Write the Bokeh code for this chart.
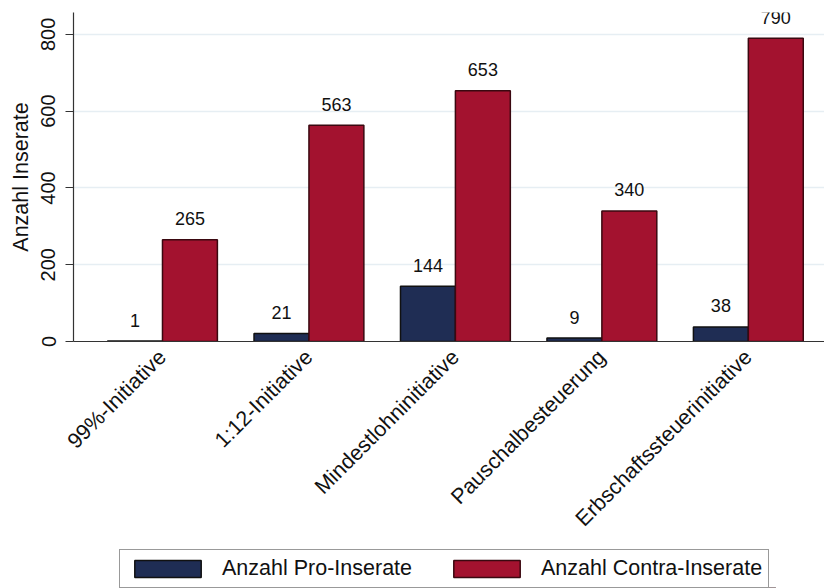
import math
from bokeh.plotting import figure
from bokeh.layouts import column
from bokeh.models import FixedTicker, Legend, LegendItem, ColumnDataSource
from bokeh.core.properties import value
from bokeh.transform import dodge
from bokeh.embed import file_html
from bokeh.resources import INLINE

categories = ["99%-Initiative", "1:12-Initiative", "Mindestlohninitiative",
              "Pauschalbesteuerung", "Erbschaftssteuerinitiative"]
pro = [1, 21, 144, 9, 38]
contra = [265, 563, 653, 340, 790]
y_ticks = [0, 200, 400, 600, 800]
series_names = ["Anzahl Pro-Inserate", "Anzahl Contra-Inserate"]
y_label = "Anzahl Inserate"

FONT = "Liberation Sans"
BLUE = "#1f2d54"
RED = "#a3122f"
BLUE_LINE = "#111111"
RED_LINE = "#3a0810"

xs = list(range(len(categories)))
src = ColumnDataSource(dict(
    x=xs, pro=pro, contra=contra,
    pro_lbl=[str(v) for v in pro], contra_lbl=[str(v) for v in contra],
))

p = figure(width=824, height=548, x_range=(-0.6075, 4.52), y_range=(0, 857),
           output_backend="svg", toolbar_location=None,
           min_border_left=73, min_border_top=12, min_border_bottom=207,
           min_border_right=0)
p.outline_line_color = None
p.background_fill_color = "white"
p.border_fill_color = "white"

BW = 0.375
OFF = BW / 2
r1 = p.vbar(x=dodge("x", -OFF), top="pro", width=BW, source=src,
            fill_color=BLUE, line_color=BLUE_LINE, line_width=1.5)
r2 = p.vbar(x=dodge("x", OFF), top="contra", width=BW, source=src,
            fill_color=RED, line_color=RED_LINE, line_width=1.5)

for col, lbl, off in (("pro", "pro_lbl", -OFF), ("contra", "contra_lbl", OFF)):
    p.text(x=dodge("x", off), y=col, text=lbl, source=src,
           text_align="center", text_baseline="alphabetic", y_offset=-21,
           text_font=value(FONT), text_font_size="18px", text_color="#111111")

# grid
p.xgrid.grid_line_color = None
p.ygrid.ticker = FixedTicker(ticks=y_ticks[1:])
p.ygrid.grid_line_color = "#e6eef3"
p.ygrid.grid_line_width = 1.5

# x axis
xa = p.xaxis[0]
xa.ticker = FixedTicker(ticks=xs)
xa.major_label_overrides = {i: c for i, c in zip(xs, categories)}
xa.major_label_orientation = math.pi / 4
xa.major_tick_line_color = None
xa.minor_tick_line_color = None
xa.major_label_standoff = 6
xa.major_label_text_font = FONT
xa.major_label_text_font_size = "21.5px"
xa.major_label_text_color = "#111111"
xa.axis_line_color = "#333333"
xa.axis_line_width = 1.2

# y axis
ya = p.yaxis[0]
ya.ticker = FixedTicker(ticks=y_ticks)
ya.major_label_orientation = "vertical"
ya.major_tick_out = 8
ya.major_tick_in = 0
ya.minor_tick_line_color = None
ya.major_tick_line_color = "#333333"
ya.major_label_standoff = 10
ya.major_label_text_font = FONT
ya.major_label_text_font_size = "20px"
ya.major_label_text_color = "#111111"
ya.axis_line_color = "#333333"
ya.axis_line_width = 1.2
ya.axis_label = y_label
ya.axis_label_text_font = FONT
ya.axis_label_text_font_size = "21.5px"
ya.axis_label_text_font_style = "normal"
ya.axis_label_text_color = "#111111"
ya.axis_label_standoff = 6

# legend strip below the chart (its frame is aligned with the chart's frame)
p2 = figure(width=824, height=40, x_range=(-0.6075, 4.52), y_range=(1000, 3000),
            output_backend="svg", toolbar_location=None, min_border=0)
p2.axis.visible = False
p2.grid.visible = False
p2.outline_line_color = None
p2.background_fill_color = "white"
p2.border_fill_color = "white"
# key glyphs share the data but lie below this strip's y range (not visible)
k1 = p2.vbar(x="x", top="pro", width=BW, source=src,
             fill_color=BLUE, line_color=BLUE_LINE, line_width=1.5)
k2 = p2.vbar(x="x", top="contra", width=BW, source=src,
             fill_color=RED, line_color=RED_LINE, line_width=1.5)

legend = Legend(
    items=[LegendItem(label=series_names[0], renderers=[k1], index=0),
           LegendItem(label=series_names[1], renderers=[k2], index=0)],
    orientation="horizontal", location=(46, 0),
    glyph_width=83, glyph_height=21, label_standoff=13, spacing=33,
    padding=6, margin=0,
    border_line_color="#333333", border_line_width=1,
    background_fill_color="white", background_fill_alpha=1,
    label_text_font=FONT, label_text_font_size="21.5px", label_text_color="#111111",
)
p2.add_layout(legend, "center")

layout = column(p, p2, spacing=0)
open("out.html", "w").write(file_html(layout, INLINE))
